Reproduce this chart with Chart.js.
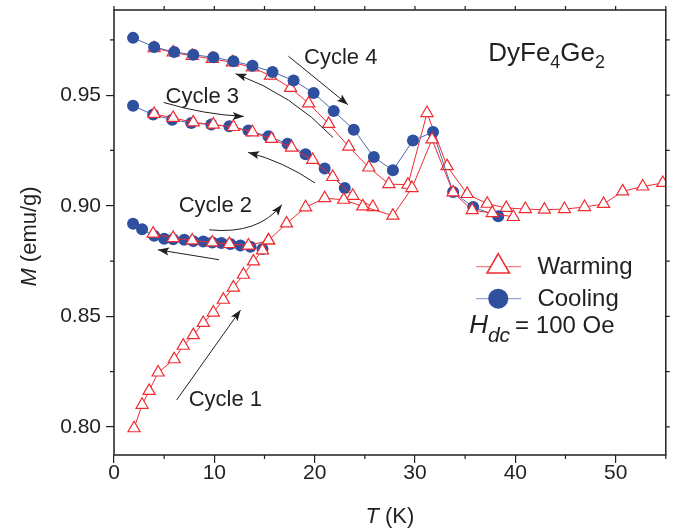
<!DOCTYPE html>
<html>
<head>
<meta charset="utf-8">
<script src="https://cdn.jsdelivr.net/npm/chart.js@4.4.1/dist/chart.umd.min.js"></script>
<style>
  html, body { margin: 0; padding: 0; background: #fff; }
</style>
</head>
<body>
<canvas id="mt" width="674" height="530"></canvas>
<script>
// M(T) of DyFe4Ge2 over four thermal cycles, Hdc = 100 Oe
// T in K, M in emu/g

// warming runs
const warm1T = [2.0, 2.8, 3.5, 4.4, 6.0, 6.9, 7.9, 8.9, 9.9, 10.9, 11.9, 12.9, 13.9, 14.8, 15.4, 17.2, 19.1, 21.0, 22.9, 24.8, 27.8, 29.7, 31.7, 33.8, 35.7, 37.7, 39.8];
const warm1M = [0.7994, 0.8100, 0.8163, 0.8246, 0.8306, 0.8367, 0.8415, 0.8470, 0.8517, 0.8575, 0.8630, 0.8688, 0.8748, 0.8798, 0.8843, 0.8920, 0.8993, 0.9034, 0.9027, 0.8997, 0.8955, 0.9080, 0.9300, 0.9060, 0.8980, 0.8967, 0.8949];

const warm2T = [3.9, 5.9, 7.8, 9.8, 11.5, 13.4, 15.4];
const warm2M = [0.8874, 0.8854, 0.8843, 0.8834, 0.8827, 0.8820, 0.8843];

const warm3T = [4.0, 5.9, 7.9, 9.9, 11.9, 13.8, 15.7, 17.7, 19.8, 21.8, 23.8, 25.8];
const warm3M = [0.9415, 0.9397, 0.9377, 0.9367, 0.9356, 0.9332, 0.9302, 0.9263, 0.9207, 0.9130, 0.9045, 0.8994];

const warm4T = [4.0, 5.9, 7.8, 9.8, 11.8, 13.8, 15.6, 17.6, 19.4, 21.4, 23.4, 25.4, 27.4, 29.3, 31.2, 33.2, 35.2, 37.2, 39.1, 41.0, 42.9, 44.9, 46.9, 48.8, 50.7, 52.7, 54.7];
const warm4M = [0.9712, 0.9693, 0.9678, 0.9664, 0.9648, 0.9625, 0.9588, 0.9533, 0.9463, 0.9370, 0.9267, 0.9173, 0.9098, 0.9095, 0.9419, 0.9179, 0.9053, 0.9009, 0.8990, 0.8985, 0.8982, 0.8985, 0.8994, 0.9008, 0.9065, 0.9087, 0.9103];

// cooling runs
const cool2T = [14.8, 13.6, 12.6, 11.6, 10.7, 9.8, 8.9, 7.9, 7.0, 5.9, 5.0, 4.0, 2.8, 1.9];
const cool2M = [0.8804, 0.8815, 0.8820, 0.8827, 0.8831, 0.8834, 0.8838, 0.8840, 0.8846, 0.8849, 0.8851, 0.8864, 0.8894, 0.8919];

const cool3T = [23.0, 21.0, 19.1, 17.3, 15.4, 13.4, 11.5, 9.7, 7.7, 5.8, 3.9, 1.9];
const cool3M = [0.9080, 0.9168, 0.9233, 0.9280, 0.9314, 0.9340, 0.9359, 0.9367, 0.9374, 0.9389, 0.9412, 0.9452];

const cool4T = [38.3, 35.8, 33.8, 31.8, 29.8, 27.8, 25.9, 23.9, 21.9, 19.9, 17.9, 15.8, 13.8, 11.9, 9.9, 7.9, 6.0, 4.0, 1.9];
const cool4M = [0.8952, 0.8994, 0.9062, 0.9333, 0.9295, 0.9160, 0.9220, 0.9344, 0.9428, 0.9510, 0.9566, 0.9605, 0.9633, 0.9653, 0.9671, 0.9683, 0.9695, 0.9718, 0.9759];

// axis ticks
const xTicks = [0, 10, 20, 30, 40, 50];
const xMinor = [5, 15, 25, 35, 45, 55];
const yTicks = [0.80, 0.85, 0.90, 0.95];
const yMinor = [0.825, 0.875, 0.925, 0.975];

// annotations, in data units
const cycleNotes = [
  { text: "Cycle 1", x: 11.1, y: 0.8122 },
  { text: "Cycle 2", x: 10.1, y: 0.9000 },
  { text: "Cycle 3", x: 8.8, y: 0.9493 },
  { text: "Cycle 4", x: 22.6, y: 0.9670 }
];
const arrows = [
  { from: [6.25, 0.8122], to: [12.62, 0.8529] },
  { from: [10.47, 0.8756], to: [4.38, 0.8801] },
  { from: [9.49, 0.8891], ctrl: [14.4, 0.8869], to: [16.73, 0.9005] },
  { from: [4.94, 0.9467], ctrl: [9.0, 0.9412], to: [12.94, 0.9404] },
  { from: [20.03, 0.9103], ctrl: [16.9, 0.9200], to: [13.37, 0.9241] },
  { from: [17.39, 0.9676], to: [23.32, 0.9457] },
  { from: [21.84, 0.9308], ctrl: [17.8, 0.9502], to: [12.12, 0.9597] }
];

const RED = "#ef2b31";
const BLUE = "#2f4f9f";
const INK = "#231f20";
const FONT = "'Liberation Sans', Arial, sans-serif";

function pts(ts, ms) {
  return ts.map((t, i) => ({ x: t, y: ms[i] }));
}

function warmSet(ts, ms, order) {
  return {
    label: "Warming",
    data: pts(ts, ms),
    showLine: true,
    borderColor: RED,
    borderWidth: 1,
    pointStyle: "triangle",
    pointRadius: 7,
    pointBackgroundColor: "#fff",
    pointBorderColor: RED,
    pointBorderWidth: 1.2,
    order: order
  };
}

function coolSet(ts, ms, order) {
  return {
    label: "Cooling",
    data: pts(ts, ms),
    showLine: true,
    borderColor: "#4a69b3",
    borderWidth: 1,
    pointStyle: "circle",
    pointRadius: 6,
    pointBackgroundColor: BLUE,
    pointBorderColor: BLUE,
    pointBorderWidth: 0,
    order: order
  };
}

function arrowHead(ctx, x, y, ang) {
  const len = 11, half = 4;
  ctx.save();
  ctx.translate(x, y);
  ctx.rotate(ang);
  ctx.beginPath();
  ctx.moveTo(0, 0);
  ctx.lineTo(-len, -half);
  ctx.lineTo(-len * 0.8, 0);
  ctx.lineTo(-len, half);
  ctx.closePath();
  ctx.fill();
  ctx.restore();
}

const decorations = {
  id: "decorations",
  afterDraw(chart) {
    const ctx = chart.ctx;
    const xs = chart.scales.x, ys = chart.scales.y;
    const a = chart.chartArea;
    const px = (v) => xs.getPixelForValue(v);
    const py = (v) => ys.getPixelForValue(v);

    ctx.save();
    ctx.strokeStyle = INK;
    ctx.fillStyle = INK;

    // frame
    ctx.lineWidth = 1.5;
    ctx.strokeRect(a.left, a.top, a.right - a.left, a.bottom - a.top);

    // minor ticks, plus ticks on top and right edges
    ctx.lineWidth = 1.2;
    ctx.beginPath();
    xMinor.forEach(v => {
      ctx.moveTo(px(v), a.bottom); ctx.lineTo(px(v), a.bottom + 4);
    });
    xTicks.concat(xMinor).forEach(v => {
      ctx.moveTo(px(v), a.top); ctx.lineTo(px(v), a.top - 4);
    });
    yMinor.forEach(v => {
      ctx.moveTo(a.left, py(v)); ctx.lineTo(a.left - 4, py(v));
    });
    yTicks.concat(yMinor).forEach(v => {
      ctx.moveTo(a.right, py(v)); ctx.lineTo(a.right + 4, py(v));
    });
    ctx.stroke();

    // axis titles
    ctx.textBaseline = "alphabetic";
    ctx.textAlign = "left";
    ctx.font = "italic 22px " + FONT;
    const mW = ctx.measureText("M").width;
    ctx.font = "22px " + FONT;
    const restW = ctx.measureText(" (emu/g)").width;
    ctx.save();
    ctx.translate(36, (a.top + a.bottom) / 2 + 4 + (mW + restW) / 2);
    ctx.rotate(-Math.PI / 2);
    ctx.font = "italic 22px " + FONT;
    ctx.fillText("M", 0, 0);
    ctx.font = "22px " + FONT;
    ctx.fillText(" (emu/g)", mW, 0);
    ctx.restore();

    ctx.font = "italic 22px " + FONT;
    const tW = ctx.measureText("T").width;
    ctx.font = "22px " + FONT;
    const kW = ctx.measureText(" (K)").width;
    const tx = (a.left + a.right) / 2 - (tW + kW) / 2;
    ctx.font = "italic 22px " + FONT;
    ctx.fillText("T", tx, 523);
    ctx.font = "22px " + FONT;
    ctx.fillText(" (K)", tx + tW, 523);

    // cycle labels
    ctx.font = "22px " + FONT;
    ctx.textAlign = "center";
    ctx.textBaseline = "middle";
    cycleNotes.forEach(n => ctx.fillText(n.text, px(n.x), py(n.y)));

    // arrows
    ctx.lineWidth = 1;
    arrows.forEach(ar => {
      const x0 = px(ar.from[0]), y0 = py(ar.from[1]);
      const x1 = px(ar.to[0]), y1 = py(ar.to[1]);
      ctx.beginPath();
      ctx.moveTo(x0, y0);
      let ang;
      if (ar.ctrl) {
        const cx = px(ar.ctrl[0]), cy = py(ar.ctrl[1]);
        ctx.quadraticCurveTo(cx, cy, x1, y1);
        ang = Math.atan2(y1 - cy, x1 - cx);
      } else {
        ctx.lineTo(x1, y1);
        ang = Math.atan2(y1 - y0, x1 - x0);
      }
      ctx.stroke();
      arrowHead(ctx, x1, y1, ang);
    });

    // compound name
    ctx.textAlign = "left";
    ctx.textBaseline = "alphabetic";
    let cx = px(37.3);
    const by = py(0.9655);
    [["DyFe", 0], ["4", 1], ["Ge", 0], ["2", 1]].forEach(([s, sub]) => {
      ctx.font = (sub ? "18px " : "26px ") + FONT;
      ctx.fillText(s, cx, by + (sub ? 7 : 0));
      cx += ctx.measureText(s).width;
    });

    // legend
    const lx = px(37.9) + 4;
    const wy = py(0.8725), cy2 = py(0.8580);
    ctx.lineWidth = 1.2;
    ctx.strokeStyle = "#f08080";
    ctx.beginPath(); ctx.moveTo(lx - 22, wy); ctx.lineTo(lx + 23, wy); ctx.stroke();
    ctx.strokeStyle = "#8fa3d0";
    ctx.beginPath(); ctx.moveTo(lx - 22, cy2); ctx.lineTo(lx + 23, cy2); ctx.stroke();
    const r = 13;
    ctx.fillStyle = "#fff";
    ctx.strokeStyle = RED;
    ctx.lineWidth = 1.5;
    ctx.beginPath();
    ctx.moveTo(lx, wy - r);
    ctx.lineTo(lx + 0.866 * r, wy + 0.5 * r);
    ctx.lineTo(lx - 0.866 * r, wy + 0.5 * r);
    ctx.closePath();
    ctx.fill(); ctx.stroke();
    ctx.fillStyle = BLUE;
    ctx.beginPath(); ctx.arc(lx, cy2, 10, 0, Math.PI * 2); ctx.fill();

    ctx.fillStyle = INK;
    ctx.font = "24px " + FONT;
    ctx.textBaseline = "middle";
    ctx.fillText("Warming", px(42.2), wy + 1);
    ctx.fillText("Cooling", px(42.2), cy2 + 1);

    // field
    ctx.textBaseline = "alphabetic";
    let hx = px(35.4);
    const hy = py(0.8425);
    ctx.font = "italic 26px " + FONT;
    ctx.fillText("H", hx, hy);
    hx += ctx.measureText("H").width;
    ctx.font = "italic 21px " + FONT;
    ctx.fillText("dc", hx, hy + 9);
    hx += ctx.measureText("dc").width + 5;
    ctx.font = "24px " + FONT;
    ctx.fillText("= 100 Oe", hx, hy);

    ctx.restore();
  }
};

const chart = new Chart(document.getElementById("mt").getContext("2d"), {
  type: "scatter",
  data: {
    datasets: [
      warmSet(warm1T, warm1M, 1),
      warmSet(warm2T, warm2M, 1),
      warmSet(warm3T, warm3M, 2),
      warmSet(warm4T, warm4M, 6),
      coolSet(cool2T, cool2M, 5),
      coolSet(cool3T, cool3M, 4),
      coolSet(cool4T, cool4M, 3)
    ]
  },
  options: {
    responsive: false,
    animation: false,
    devicePixelRatio: 1,
    layout: { padding: { left: 0, right: 4, top: 10, bottom: 0 } },
    plugins: { legend: { display: false }, tooltip: { enabled: false } },
    scales: {
      x: {
        type: "linear",
        min: 0,
        max: 55,
        afterBuildTicks: (s) => { s.ticks = xTicks.map(v => ({ value: v })); },
        afterFit: (s) => { s.height = 75; s.paddingLeft = 0; s.paddingRight = 0; },
        ticks: { color: INK, font: { family: FONT, size: 21 }, padding: -2, maxRotation: 0 },
        grid: { drawOnChartArea: false, tickLength: 8, color: INK, lineWidth: 1.2 },
        border: { display: false }
      },
      y: {
        type: "linear",
        min: 0.7873,
        max: 0.9885,
        afterBuildTicks: (s) => { s.ticks = yTicks.map(v => ({ value: v })); },
        afterFit: (s) => { s.width = 114; s.paddingTop = 0; s.paddingBottom = 0; },
        ticks: { color: INK, font: { family: FONT, size: 21 }, padding: 5, callback: (v) => v.toFixed(2) },
        grid: { drawOnChartArea: false, tickLength: 8, color: INK, lineWidth: 1.2 },
        border: { display: false }
      }
    }
  },
  plugins: [decorations]
});
</script>
</body>
</html>
